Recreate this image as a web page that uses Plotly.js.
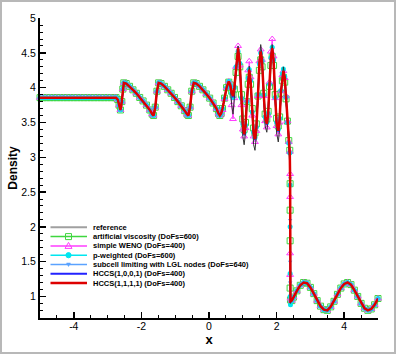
<!DOCTYPE html>
<html>
<head>
<meta charset="utf-8">
<script src="https://cdn.plot.ly/plotly-3.0.1.min.js"></script>
<style>
  body { margin: 0; background: #fff; }
  #wrap { position: relative; width: 399px; height: 355px; }
  #frame { position: absolute; left: 0; top: 0; width: 396px; height: 354px;
           border: 2px solid #b8b8b8; box-sizing: border-box; pointer-events: none; }
</style>
</head>
<body>
<div id="wrap">
  <div id="plot" style="width:399px;height:355px;"></div>
  <div id="frame"></div>
</div>
<script>
// Shu-Osher density profile

// flat pre-shock state
var xFlat = [-5, -4.9, -4.8, -4.7, -4.6, -4.5, -4.4, -4.3, -4.2, -4.1, -4, -3.9, -3.8, -3.7, -3.6, -3.5, -3.4, -3.3, -3.2, -3.1, -3, -2.9, -2.8];
var rhoFlat = [3.857, 3.857, 3.857, 3.857, 3.857, 3.857, 3.857, 3.857, 3.857, 3.857, 3.857, 3.857, 3.857, 3.857, 3.857, 3.857, 3.857, 3.857, 3.857, 3.857, 3.857, 3.857, 3.857];

// low-frequency sawtooth waves (all schemes agree here)
var xWave = [-2.75, -2.7, -2.66, -2.62, -2.58, -2.55, -2.52, -2.45, -2.35, -2.25, -2.15, -2.05, -1.95, -1.85, -1.75, -1.68, -1.64,
             -1.59, -1.54, -1.49, -1.42, -1.32, -1.22, -1.12, -1.02, -0.92, -0.82, -0.72, -0.65, -0.61,
             -0.56, -0.51, -0.45, -0.38, -0.28, -0.18, -0.08, 0.02, 0.12, 0.22, 0.28, 0.32, 0.36];
var rhoWave = [3.857, 3.83, 3.75, 3.68, 3.80, 3.98, 4.07, 4.06, 4.02, 3.97, 3.92, 3.86, 3.81, 3.75, 3.68, 3.62, 3.60,
               3.72, 3.95, 4.07, 4.06, 4.02, 3.97, 3.92, 3.86, 3.80, 3.74, 3.67, 3.62, 3.60,
               3.72, 3.95, 4.07, 4.06, 4.02, 3.97, 3.91, 3.85, 3.78, 3.70, 3.63, 3.60, 3.63];

// high-frequency region, one array per scheme
var xMid = [0.40, 0.46, 0.52, 0.585, 0.63, 0.67, 0.71, 0.75, 0.80, 0.86, 0.91, 0.96, 1.00, 1.04, 1.08, 1.12, 1.16, 1.19,
            1.23, 1.28, 1.32, 1.36, 1.40, 1.45, 1.49, 1.53, 1.57, 1.62, 1.66, 1.71, 1.75, 1.79, 1.83, 1.87,
            1.91, 1.96, 2.00, 2.05, 2.09, 2.13, 2.17, 2.20, 2.24, 2.28, 2.32, 2.36, 2.39];
var midRef = [3.70, 3.86, 4.01, 4.09, 4.00, 3.76, 3.62, 3.85, 4.28, 4.60, 4.32, 3.72, 3.30, 3.18, 3.35, 3.80, 4.20, 4.31,
              4.10, 3.55, 3.18, 3.10, 3.30, 3.90, 4.42, 4.62, 4.45, 3.85, 3.45, 3.36, 3.55, 4.05, 4.48, 4.62,
              4.42, 3.80, 3.35, 3.22, 3.40, 3.90, 4.22, 4.30, 4.18, 3.85, 3.45, 3.15, 3.00];
var midAV = [3.70, 3.85, 4.00, 4.08, 4.04, 3.95, 3.90, 3.98, 4.22, 4.45, 4.30, 3.90, 3.55, 3.40, 3.50, 3.80, 4.05, 4.15,
             4.05, 3.70, 3.42, 3.35, 3.48, 3.88, 4.25, 4.40, 4.30, 3.92, 3.62, 3.55, 3.66, 4.02, 4.32, 4.45,
             4.32, 3.90, 3.56, 3.45, 3.58, 3.92, 4.10, 4.15, 4.08, 3.84, 3.52, 3.24, 3.10];
var midWENO = [3.68, 3.84, 4.00, 4.09, 4.02, 3.75, 3.55, 3.85, 4.30, 4.60, 4.32, 3.75, 3.40, 3.30, 3.42, 3.82, 4.25, 4.38,
               4.15, 3.60, 3.30, 3.22, 3.38, 3.88, 4.38, 4.55, 4.40, 3.88, 3.52, 3.43, 3.60, 4.08, 4.52, 4.70,
               4.45, 3.85, 3.45, 3.33, 3.50, 3.95, 4.18, 4.24, 4.14, 3.88, 3.52, 3.22, 3.08];
var midPW = [3.70, 3.85, 4.00, 4.09, 4.04, 3.92, 3.86, 4.00, 4.30, 4.52, 4.35, 3.85, 3.48, 3.35, 3.46, 3.80, 4.14, 4.26,
             4.10, 3.65, 3.36, 3.28, 3.43, 3.90, 4.34, 4.50, 4.38, 3.90, 3.58, 3.50, 3.63, 4.05, 4.43, 4.58,
             4.40, 3.86, 3.50, 3.40, 3.56, 3.96, 4.20, 4.27, 4.16, 3.86, 3.50, 3.20, 3.06];
var midSub = [3.70, 3.85, 4.00, 4.09, 4.03, 3.93, 3.88, 4.00, 4.28, 4.54, 4.34, 3.86, 3.49, 3.34, 3.46, 3.80, 4.12, 4.24,
              4.10, 3.66, 3.36, 3.27, 3.43, 3.90, 4.33, 4.50, 4.37, 3.90, 3.58, 3.49, 3.62, 4.04, 4.41, 4.55,
              4.39, 3.86, 3.50, 3.39, 3.55, 3.95, 4.17, 4.23, 4.14, 3.85, 3.50, 3.20, 3.06];
var midH1001 = [3.70, 3.85, 4.00, 4.09, 4.04, 3.93, 3.86, 3.98, 4.28, 4.55, 4.35, 3.85, 3.47, 3.32, 3.45, 3.80, 4.12, 4.25,
                4.10, 3.65, 3.34, 3.25, 3.42, 3.90, 4.34, 4.51, 4.38, 3.90, 3.57, 3.47, 3.62, 4.05, 4.42, 4.56,
                4.40, 3.85, 3.49, 3.37, 3.55, 3.95, 4.18, 4.23, 4.15, 3.85, 3.50, 3.20, 3.06];
var midH1111 = [3.70, 3.85, 4.00, 4.09, 4.04, 3.93, 3.88, 4.00, 4.30, 4.57, 4.35, 3.85, 3.48, 3.33, 3.45, 3.80, 4.12, 4.26,
                4.10, 3.65, 3.35, 3.26, 3.42, 3.90, 4.35, 4.52, 4.38, 3.90, 3.58, 3.48, 3.62, 4.05, 4.42, 4.57,
                4.40, 3.85, 3.50, 3.38, 3.55, 3.95, 4.18, 4.24, 4.15, 3.85, 3.50, 3.20, 3.06];

// points on the shock
var xShock = [2.40, 2.40, 2.40, 2.40, 2.41];
var shockRef = [2.80, 2.20, 1.60, 1.10, 0.90];
var shockAV = [2.62, 2.24, 1.80, 1.12, 0.95];
var shockWENO = [2.76, 2.43, 1.62, 1.31, 0.97];
var shockPW = [2.60, 2.00, 1.33, 1.00, 0.88];
var shockSub = [2.70, 2.10, 1.50, 1.20, 0.92];
var shockH1001 = [2.70, 2.10, 1.50, 1.10, 0.93];
var shockH1111 = [2.70, 2.10, 1.50, 1.10, 0.93];

// undisturbed entropy wave ahead of the shock
var xRight = [2.45, 2.5, 2.6, 2.7, 2.8, 2.9, 3.0, 3.1, 3.2, 3.3, 3.4, 3.5, 3.6, 3.7, 3.8, 3.9, 4.0, 4.1, 4.2, 4.3, 4.4, 4.5, 4.6, 4.7, 4.8, 4.9, 5.0];
var rhoRight = [0.94, 0.99, 1.08, 1.16, 1.20, 1.19, 1.13, 1.04, 0.94, 0.86, 0.81, 0.80, 0.85, 0.93, 1.03, 1.12, 1.18, 1.20, 1.17, 1.09, 1.00, 0.90, 0.83, 0.80, 0.82, 0.88, 0.97];

var seriesNames = ['reference', 'artificial viscosity (DoFs=600)', 'simple WENO (DoFs=400)', 'p-weighted (DoFs=600)',
                   'subcell limiting with LGL nodes (DoFs=640)', 'HCCS(1,0,0,1) (DoFs=400)', 'HCCS(1,1,1,1) (DoFs=400)'];
var xTickVals = [-4, -2, 0, 2, 4];
var xTickText = ['-4', '-2', '0', '2', '4'];

var xAll = xFlat.concat(xWave, xMid, xShock, xRight);
function profile(mid, shock) {
  return rhoFlat.concat(rhoWave, mid, shock, rhoRight);
}

var cGreen = '#3fd63f', cMag = '#ff3cff', cCyan = '#00e6f0', cLblue = '#5aa2ff', cBlue = '#2222ff', cRed = '#dd0000';

var tAV = {x: xAll, y: profile(midAV, shockAV), mode: 'lines+markers', cliponaxis: false,
  line: {color: cGreen, width: 1.5}, marker: {symbol: 'square-open', size: 6, color: cGreen, line: {width: 1}}};
var tWENO = {x: xAll, y: profile(midWENO, shockWENO), mode: 'lines+markers', cliponaxis: false,
  line: {color: cMag, width: 1}, marker: {symbol: 'triangle-up-open', size: 6, color: cMag, line: {width: 1}}};
var tPW = {x: xAll, y: profile(midPW, shockPW), mode: 'lines+markers', cliponaxis: false,
  line: {color: cCyan, width: 1.5}, marker: {symbol: 'circle', size: 5, color: cCyan}};
var tSub = {x: xAll, y: profile(midSub, shockSub), mode: 'lines+markers', cliponaxis: false,
  line: {color: cLblue, width: 1}, marker: {symbol: 'triangle-down', size: 4, color: cLblue}};
var tRef = {x: xAll, y: profile(midRef, shockRef), mode: 'lines',
  line: {color: '#333', width: 1}};
var tH1001 = {x: xAll, y: profile(midH1001, shockH1001), mode: 'lines',
  line: {color: cBlue, width: 1.5}};
var tH1111 = {x: xAll, y: profile(midH1111, shockH1111), mode: 'lines',
  line: {color: cRed, width: 2.5}};

var data = [tAV, tWENO, tPW, tSub, tRef, tH1001, tH1111];

// hand-made compact legend (Plotly's own rows are too tall here)
var M = {l: 40, r: 21, t: 18, b: 37};
var W = 399 - M.l - M.r, H = 355 - M.t - M.b;
function fx(px) { return (px - M.l) / W; }
function fy(py) { return 1 - (py - M.t) / H; }

var legRows = [227.3, 236.6, 245.9, 255.2, 264.5, 273.8, 283.1];
var legColors = ['#a0a0a0', cGreen, cMag, cCyan, cLblue, cBlue, cRed];
var legWidths = [2, 1.5, 1.5, 1.5, 1.5, 2, 2.5];
var shapes = [], annotations = [];
for (var i = 0; i < seriesNames.length; i++) {
  var ry = legRows[i];
  shapes.push({type: 'line', xref: 'paper', yref: 'paper', x0: fx(50.5), x1: fx(87), y0: fy(ry), y1: fy(ry),
    line: {color: legColors[i], width: legWidths[i]}});
  annotations.push({xref: 'paper', yref: 'paper', x: fx(90.8), y: fy(ry), xanchor: 'left', yanchor: 'middle',
    text: '<b>' + seriesNames[i] + '</b>', showarrow: false, font: {family: 'Liberation Sans, Arial', size: 7.5, color: '#000'}});
}
var mx = 68.5;
// square
shapes.push({type: 'rect', xref: 'paper', yref: 'paper', x0: fx(mx - 3), x1: fx(mx + 3), y0: fy(legRows[1] - 3), y1: fy(legRows[1] + 3),
  line: {color: cGreen, width: 1}, fillcolor: 'rgba(0,0,0,0)'});
// triangle up
var ty = legRows[2];
shapes.push({type: 'path', xref: 'paper', yref: 'paper',
  path: 'M' + fx(mx) + ',' + fy(ty - 3.5) + ' L' + fx(mx + 3.5) + ',' + fy(ty + 2.5) + ' L' + fx(mx - 3.5) + ',' + fy(ty + 2.5) + ' Z',
  line: {color: cMag, width: 1}, fillcolor: 'rgba(0,0,0,0)'});
// filled circle
shapes.push({type: 'circle', xref: 'paper', yref: 'paper', x0: fx(mx - 2.6), x1: fx(mx + 2.6), y0: fy(legRows[3] - 2.6), y1: fy(legRows[3] + 2.6),
  line: {color: cCyan, width: 1}, fillcolor: cCyan});
// small triangle down
var td = legRows[4];
shapes.push({type: 'path', xref: 'paper', yref: 'paper',
  path: 'M' + fx(mx - 2) + ',' + fy(td - 1.5) + ' L' + fx(mx + 2) + ',' + fy(td - 1.5) + ' L' + fx(mx) + ',' + fy(td + 2) + ' Z',
  line: {color: cLblue, width: 0.5}, fillcolor: cLblue});

var tickFont = {family: 'Liberation Sans, Arial', size: 10.5, color: '#000'};
var layout = {
  width: 399, height: 355,
  margin: M,
  paper_bgcolor: 'rgba(0,0,0,0)', plot_bgcolor: '#fff',
  showlegend: false,
  xaxis: {
    range: [-5, 5], tickvals: xTickVals, ticktext: xTickText,
    ticks: 'inside', ticklen: 6, tickwidth: 1.5, tickcolor: '#000',
    showline: true, linewidth: 2, linecolor: '#000', showgrid: false, zeroline: false,
    minor: {dtick: 0.5, tick0: 0, ticks: 'inside', ticklen: 3, tickwidth: 1, tickcolor: '#000', showgrid: false},
    tickfont: tickFont, ticklabelstandoff: -3,
    title: {text: '<b>x</b>', font: {family: 'Liberation Sans, Arial', size: 13, color: '#000'}, standoff: 0}
  },
  yaxis: {
    range: [0.69, 5.002], dtick: 0.5, tick0: 0,
    ticks: 'inside', ticklen: 6, tickwidth: 1.5, tickcolor: '#000',
    showline: true, linewidth: 2, linecolor: '#000', showgrid: false, zeroline: false,
    minor: {dtick: 0.1, tick0: 0, ticks: 'inside', ticklen: 3, tickwidth: 1, tickcolor: '#000', showgrid: false},
    tickfont: tickFont,
    title: {text: '<b>Density</b>', font: {family: 'Liberation Sans, Arial', size: 12, color: '#000'}, standoff: 1}
  },
  shapes: shapes,
  annotations: annotations
};

Plotly.newPlot('plot', data, layout, {displayModeBar: false, staticPlot: true});
</script>
</body>
</html>
